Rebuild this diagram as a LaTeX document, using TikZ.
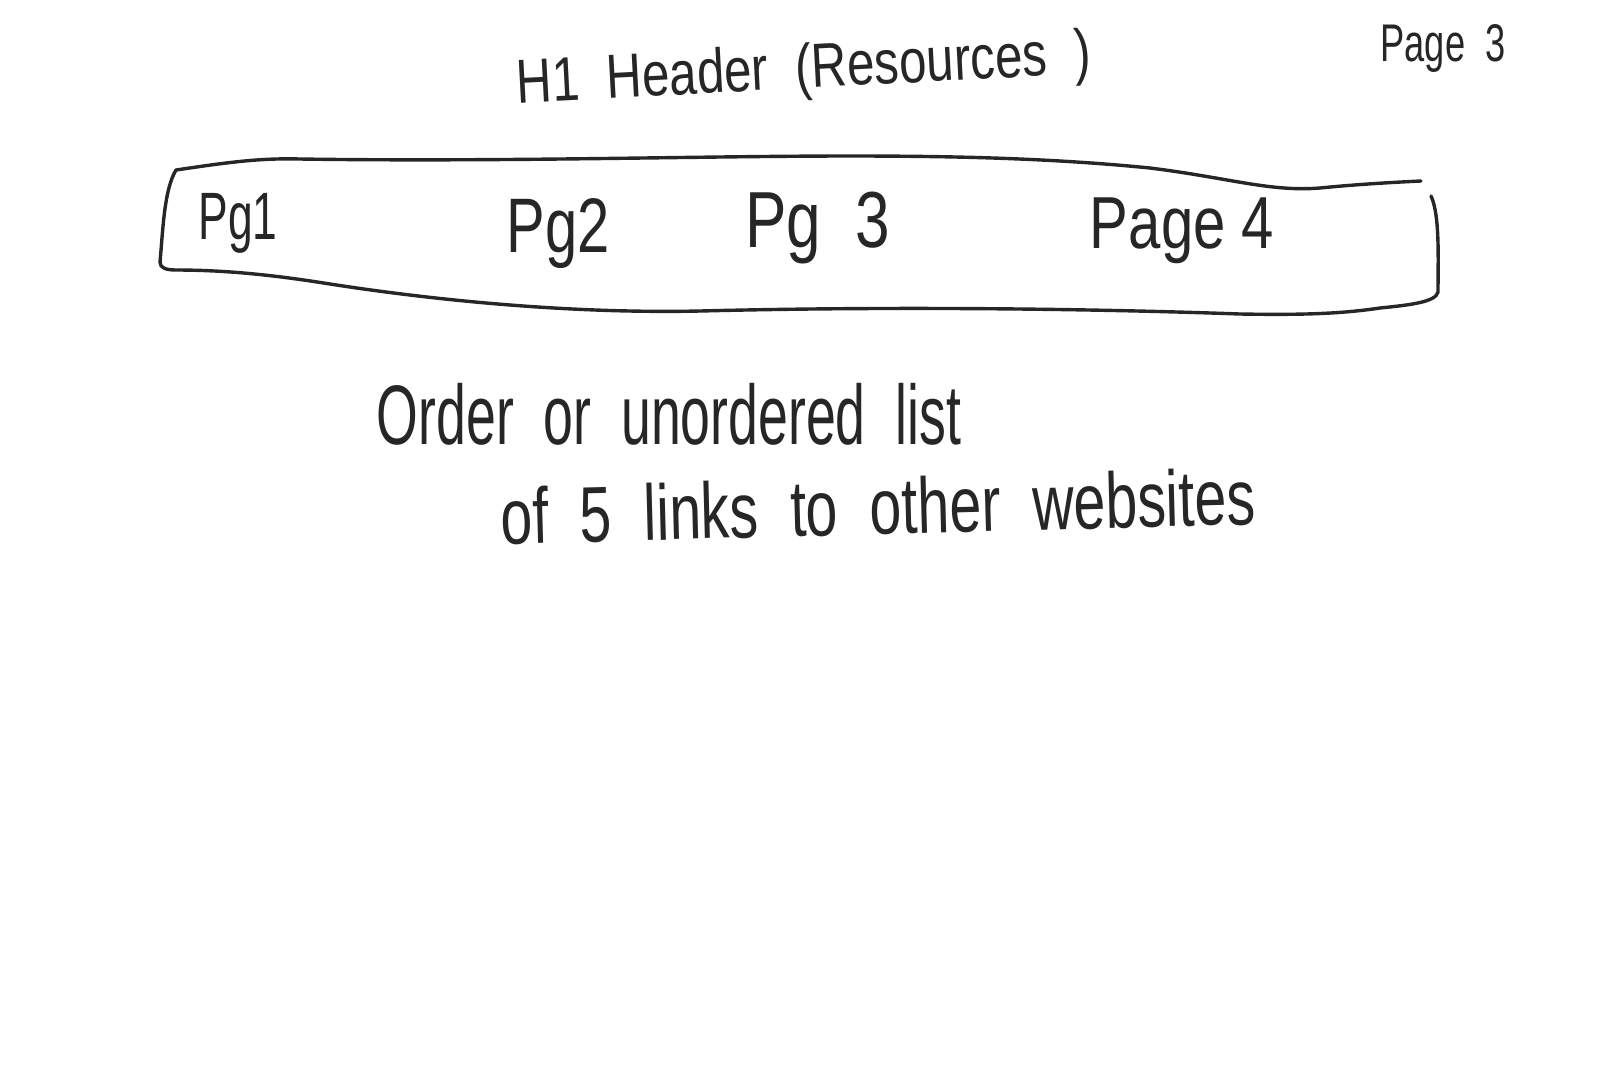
\documentclass[tikz,border=0pt]{standalone}
\usepackage{fontspec}
\setmainfont{Liberation Sans}
\usepackage{graphicx}
\begin{document}
\begin{tikzpicture}[x=1pt,y=-1pt,
  hand/.style={line width=3.4pt, draw=black!85, line cap=round, line join=round},
  lbl/.style={inner sep=0pt, text=black!85}]
\useasboundingbox (0,0) rectangle (1620,1080);
% title and page marker
\node[lbl, rotate=3] (title) at (804,72) {\resizebox*{575pt}{58pt}{H1 \ Header \ (Resources \ )}};
\node[lbl] (pagemark) at (1443,48) {\resizebox*{125pt}{48pt}{Page \ 3}};
% nav bar box
\draw[hand] (160,262) .. controls (163,230) and (164,190) .. (176,170)
  .. controls (230,162) and (260,158) .. (300,159)
  .. controls (500,162) and (700,156) .. (850,156)
  .. controls (950,156) and (1050,158) .. (1150,168)
  .. controls (1230,178) and (1270,192) .. (1320,188)
  .. controls (1360,184) and (1400,182) .. (1421,181);
\draw[hand] (1431,196) .. controls (1440,215) and (1438,260) .. (1438,292)
  .. controls (1436,302) and (1410,305) .. (1380,308)
  .. controls (1340,314) and (1300,315) .. (1240,314)
  .. controls (1100,309) and (900,306) .. (700,311)
  .. controls (560,314) and (420,298) .. (330,284)
  .. controls (280,276) and (230,270) .. (176,270)
  .. controls (166,270) and (160,268) .. (160,262);
\node[lbl] (pg1) at (238,223) {\resizebox*{79pt}{60pt}{Pg1}};
\node[lbl] (pg2) at (558,234) {\resizebox*{103pt}{70pt}{Pg2}};
\node[lbl] (pg3) at (818,228) {\resizebox*{145pt}{72pt}{Pg \ 3}};
\node[lbl] (pg4) at (1182,231) {\resizebox*{184pt}{66pt}{Page 4}};
% body text
\node[lbl] (line1) at (669,414) {\resizebox*{584pt}{62pt}{Order \ or \ unordered \ list}};
\node[lbl, rotate=1.5] (line2) at (878,506) {\resizebox*{755pt}{58pt}{of \ 5 \ links \ to \ other \ websites}};
\end{tikzpicture}
\end{document}
